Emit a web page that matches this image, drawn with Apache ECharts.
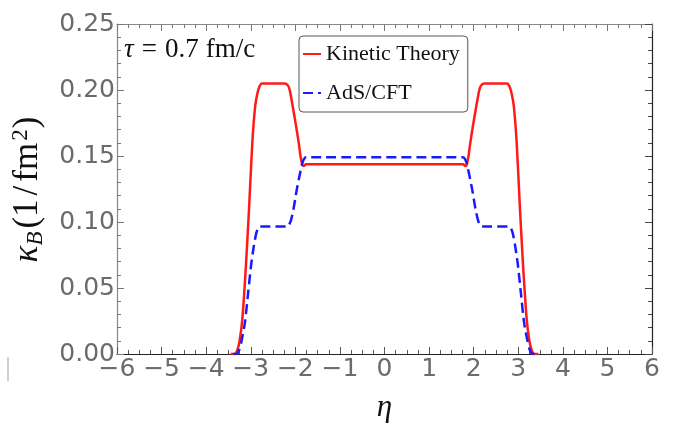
<!DOCTYPE html>
<html>
<head>
<meta charset="utf-8">
<script src="https://cdn.jsdelivr.net/npm/echarts@6/dist/echarts.min.js"></script>
<style>
  html, body { margin: 0; padding: 0; background: #fff; }
  #chart { width: 673px; height: 425px; }
</style>
</head>
<body>
<div id="chart"></div>
<script>
  // eta grid and values
  const etaKinetic = [-3.45, -3.36, -3.30, -3.25, -3.19, -3.11, -3.04, -2.965, -2.90, -2.85, -2.80, -2.75,
    -2.25, -2.20, -2.15, -2.12, -2.05, -1.98, -1.92, -1.88, -1.84, -1.81, -1.76,
    1.76, 1.81, 1.84, 1.88, 1.92, 1.98, 2.05, 2.12, 2.15, 2.20, 2.25,
    2.75, 2.80, 2.85, 2.90, 2.965, 3.04, 3.11, 3.19, 3.25, 3.30, 3.36, 3.45];
  const kineticTheory = [0, 0, 0.003, 0.010, 0.026, 0.066, 0.109, 0.160, 0.188, 0.1975, 0.203, 0.205,
    0.205, 0.2045, 0.2025, 0.199, 0.186, 0.172, 0.159, 0.149, 0.143, 0.1425, 0.1438,
    0.1438, 0.1425, 0.143, 0.149, 0.159, 0.172, 0.186, 0.199, 0.2025, 0.2045, 0.205,
    0.205, 0.203, 0.1975, 0.188, 0.160, 0.109, 0.066, 0.026, 0.010, 0.003, 0, 0];

  const etaAds = [-3.4, -3.32, -3.26, -3.20, -3.13, -3.06, -2.99, -2.93, -2.88, -2.84, -2.80,
    -2.18, -2.14, -2.10, -2.04, -1.97, -1.90, -1.84, -1.80, -1.76,
    1.76, 1.80, 1.84, 1.90, 1.97, 2.04, 2.10, 2.14, 2.18,
    2.80, 2.84, 2.88, 2.93, 2.99, 3.06, 3.13, 3.20, 3.26, 3.32, 3.4];
  const adsCft = [0, 0, 0.003, 0.011, 0.024, 0.046, 0.068, 0.082, 0.091, 0.095, 0.0965,
    0.0965, 0.098, 0.101, 0.110, 0.124, 0.136, 0.145, 0.148, 0.149,
    0.149, 0.148, 0.145, 0.136, 0.124, 0.110, 0.101, 0.098, 0.0965,
    0.0965, 0.095, 0.091, 0.082, 0.068, 0.046, 0.024, 0.011, 0.003, 0, 0];

  const chart = echarts.init(document.getElementById('chart'));

  const labelFont = { color: '#6b6b6b', fontFamily: 'DejaVu Sans', fontSize: 25 };
  const minus = v => String(v).replace('-', '\u2212');
  const serif = (size, extra) => Object.assign({ fontFamily: 'Liberation Serif', fontSize: size, color: '#111' }, extra);

  chart.setOption({
    backgroundColor: '#fff',
    animation: false,
    grid: { left: 117, right: 21, top: 24, bottom: 71, outerBoundsMode: 'none', containLabel: false },
    legend: {
      orient: 'vertical',
      left: 299, top: 36,
      padding: [7, 8, 8, 3],
      itemGap: 17,
      itemWidth: 18, itemHeight: 12,
      borderColor: '#555', borderWidth: 1, borderRadius: 4,
      backgroundColor: '#fff',
      itemStyle: { color: 'transparent', borderColor: 'transparent', borderWidth: 0 },
      textStyle: { fontFamily: 'Liberation Serif', fontSize: 22, color: '#111' },
      data: ['Kinetic Theory', 'AdS/CFT']
    },
    xAxis: [{
      type: 'value', min: -6, max: 6, interval: 1,
      name: 'η', nameLocation: 'middle', nameGap: 38,
      nameTextStyle: serif(31, { fontStyle: 'italic' }),
      axisLine: { show: true, onZero: false, lineStyle: { color: '#222', width: 1.2 } },
      axisTick: { inside: true, length: 7, lineStyle: { color: '#555' } },
      minorTick: { show: true, splitNumber: 4, length: 4, lineStyle: { color: '#555' } },
      axisLabel: Object.assign({ margin: 3, formatter: minus }, labelFont),
      splitLine: { show: false }
    }, {
      type: 'value', min: -6, max: 6, interval: 1, position: 'top',
      axisLine: { show: true, onZero: false, lineStyle: { color: '#888', width: 1.2 } },
      axisTick: { inside: true, length: 7, lineStyle: { color: '#777' } },
      minorTick: { show: true, splitNumber: 4, length: 4, lineStyle: { color: '#777' } },
      axisLabel: { show: false },
      splitLine: { show: false }
    }],
    yAxis: [{
      type: 'value', min: 0, max: 0.25, interval: 0.05,
      name: '{k|κ}{sub|B}{n|(1}{s|/}{n|fm}{sup|2}{n|)}',
      nameLocation: 'middle', nameGap: 70,
      nameTextStyle: {
        color: '#111',
        rich: {
          k: serif(35, { fontStyle: 'italic' }),
          sub: serif(23, { fontStyle: 'italic', padding: [15, 2, 0, 0] }),
          n: serif(35, { padding: [0, 1, 0, 1] }),
          s: serif(35, { padding: [0, 3, 0, 3] }),
          sup: serif(23, { padding: [0, 0, 15, 1] })
        }
      },
      axisLine: { show: true, onZero: false, lineStyle: { color: '#888', width: 1.2 } },
      axisTick: { inside: true, length: 7, lineStyle: { color: '#777' } },
      minorTick: { show: true, splitNumber: 5, length: 4, lineStyle: { color: '#777' } },
      axisLabel: Object.assign({ margin: 2, formatter: v => v.toFixed(2) }, labelFont),
      splitLine: { show: false }
    }, {
      type: 'value', min: 0, max: 0.25, interval: 0.05, position: 'right',
      axisLine: { show: true, onZero: false, lineStyle: { color: '#222', width: 1.2 } },
      axisTick: { inside: true, length: 7, lineStyle: { color: '#444' } },
      minorTick: { show: true, splitNumber: 5, length: 4, lineStyle: { color: '#444' } },
      axisLabel: { show: false },
      splitLine: { show: false }
    }],
    graphic: [{
      type: 'text', left: 124, top: 36, z: 10,
      style: {
        text: '{t|τ}{o|=}{n|0.7}{u|fm/c}',
        rich: {
          t: { fontFamily: 'Liberation Serif', fontStyle: 'italic', fontSize: 27, fill: '#111' },
          o: { fontFamily: 'Liberation Serif', fontSize: 27, fill: '#111', padding: [0, 8, 0, 8] },
          n: { fontFamily: 'Liberation Serif', fontSize: 27, fill: '#111' },
          u: { fontFamily: 'Liberation Serif', fontSize: 27, fill: '#111', padding: [0, 0, 0, 7] }
        }
      }
    }, {
      type: 'rect', left: 7, top: 357, z: 10,
      shape: { width: 2, height: 24 },
      style: { fill: '#cfcfcf' }
    }],
    series: [{
      name: 'Kinetic Theory', type: 'line',
      data: etaKinetic.map((x, i) => [x, kineticTheory[i]]),
      symbol: 'none', smooth: 0.25, z: 3,
      lineStyle: { color: '#ff1a1a', width: 2.5 },
      itemStyle: { color: '#ff1a1a' }
    }, {
      name: 'AdS/CFT', type: 'line',
      data: etaAds.map((x, i) => [x, adsCft[i]]),
      symbol: 'none', smooth: 0.25, z: 4,
      lineStyle: { color: '#1a1aff', width: 2.5, type: [10, 5] },
      itemStyle: { color: '#1a1aff' }
    }]
  });
</script>
</body>
</html>
